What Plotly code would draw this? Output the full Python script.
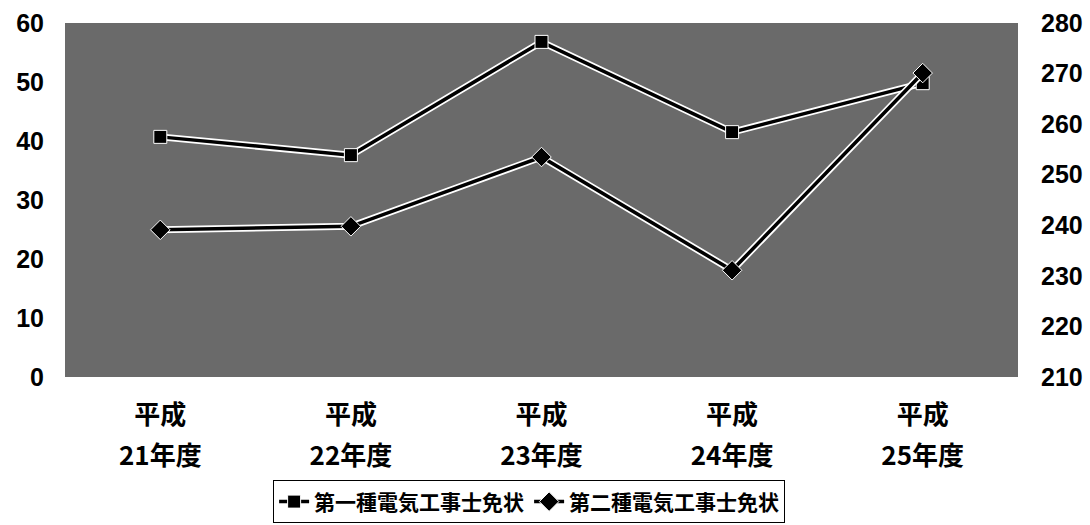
import plotly.graph_objects as go

categories = ["平成21年度", "平成22年度", "平成23年度", "平成24年度", "平成25年度"]
tick_top = ["平成", "平成", "平成", "平成", "平成"]
tick_bottom = ["21年度", "22年度", "23年度", "24年度", "25年度"]
series1_name = "第一種電気工事士免状"
series2_name = "第二種電気工事士免状"
series1 = [40.7, 37.6, 56.8, 41.5, 49.8]
series2 = [239.1, 239.8, 253.5, 231.1, 270.1]
left_ticks = [0, 10, 20, 30, 40, 50, 60]
right_ticks = [210, 220, 230, 240, 250, 260, 270, 280]

FONT = "Liberation Sans, Arial, Noto Sans CJK JP"
CJK = "Noto Sans CJK JP"

fig = go.Figure()
# white halos under lines
fig.add_trace(go.Scatter(x=categories, y=series1, mode="lines",
                         line=dict(color="white", width=7), showlegend=False,
                         hoverinfo="skip", xaxis="x", yaxis="y"))
fig.add_trace(go.Scatter(x=categories, y=series2, mode="lines",
                         line=dict(color="white", width=7), showlegend=False,
                         hoverinfo="skip", xaxis="x", yaxis="y2"))
fig.add_trace(go.Scatter(x=categories, y=series1, mode="lines+markers", name=series1_name,
                         line=dict(color="black", width=3.5),
                         marker=dict(symbol="square", size=13, color="black",
                                     line=dict(color="white", width=1)),
                         xaxis="x", yaxis="y"))
fig.add_trace(go.Scatter(x=categories, y=series2, mode="lines+markers", name=series2_name,
                         line=dict(color="black", width=3.5),
                         marker=dict(symbol="diamond", size=15, color="black",
                                     line=dict(color="white", width=1)),
                         xaxis="x", yaxis="y2"))
# invisible trace to carry the second row of category labels
fig.add_trace(go.Scatter(x=categories, y=series1, mode="lines", line=dict(width=0),
                         opacity=0, showlegend=False, hoverinfo="skip",
                         xaxis="x3", yaxis="y"))

fig.update_layout(
    width=1090, height=525,
    margin=dict(l=65, r=72, t=23, b=148, autoexpand=False),
    paper_bgcolor="white",
    plot_bgcolor="#6a6a6a",
    font=dict(family=FONT, color="black"),
    showlegend=True,
    legend=dict(orientation="h", x=0.487, y=-0.353, xanchor="center", yanchor="middle",
                bordercolor="black", borderwidth=1, bgcolor="white",
                font=dict(size=21, family=CJK, weight="bold"),
                traceorder="normal", tracegroupgap=0),
    xaxis=dict(type="category", categoryarray=categories, range=[-0.5, 4.5],
               tickvals=categories, ticktext=tick_top, ticks="",
               showgrid=False, zeroline=False, showline=False,
               ticklabelstandoff=20,
               tickfont=dict(size=26, family=CJK, weight="bold")),
    xaxis3=dict(type="category", categoryarray=categories, range=[-0.5, 4.5],
                overlaying="x", side="bottom", anchor="y",
                tickvals=categories, ticktext=tick_bottom, ticks="",
                showgrid=False, zeroline=False, showline=False,
                ticklabelstandoff=61,
                tickfont=dict(size=26, family=CJK, weight="bold")),
    yaxis=dict(range=[0, 60], tickvals=left_ticks, ticks="", showgrid=False,
               zeroline=False, showline=False, ticklabelstandoff=20,
               tickfont=dict(size=25, family=FONT, weight="bold")),
    yaxis2=dict(range=[210, 280], tickvals=right_ticks, overlaying="y", side="right",
                ticks="", showgrid=False, zeroline=False, showline=False,
                ticklabelstandoff=22,
                tickfont=dict(size=25, family=FONT, weight="bold")),
)

fig.write_html("out.html", post_script="document.body.style.margin='0';",
               config={"displayModeBar": False})
